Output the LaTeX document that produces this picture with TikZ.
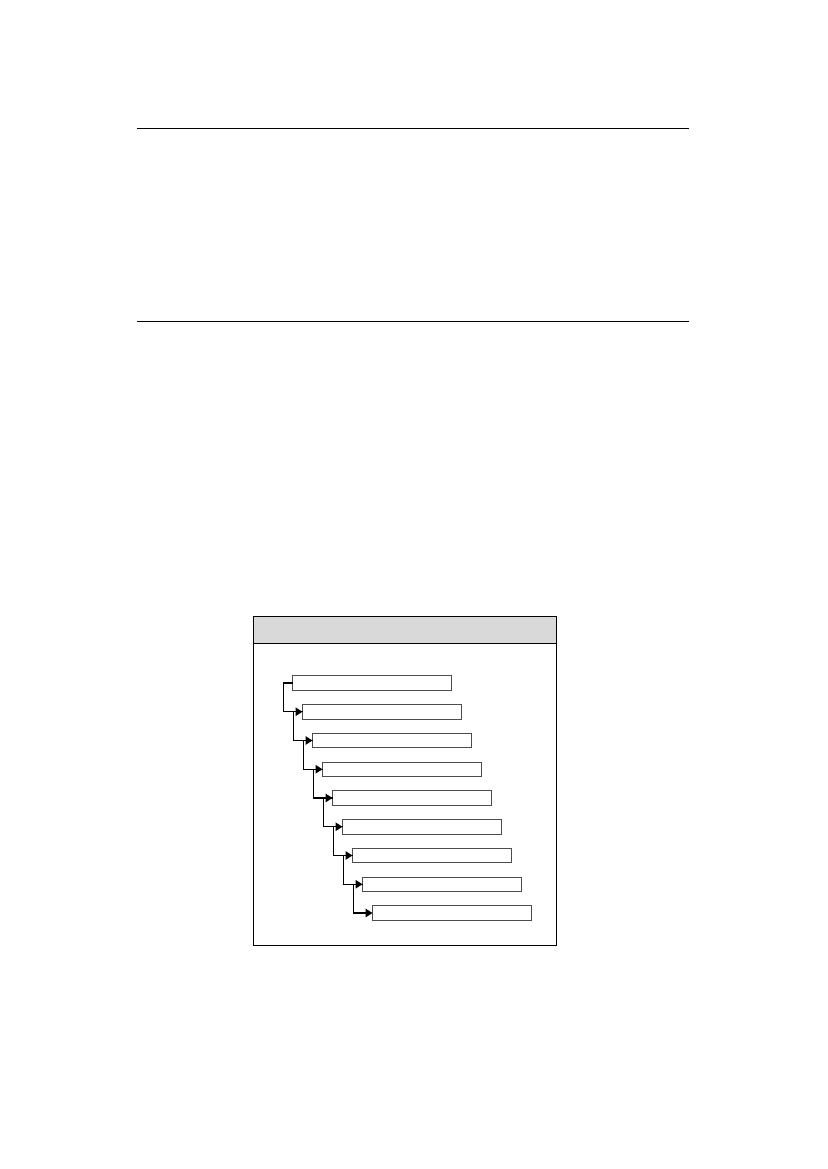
\documentclass[tikz,border=0pt]{standalone}
\usepackage{tikz}
\usetikzlibrary{positioning,calc,arrows.meta}

\begin{document}
\begin{tikzpicture}[x=1pt,y=-1pt,
    stepbar/.style={draw=black!70, line width=0.8pt, fill=white, rectangle, minimum width=158.5pt, minimum height=14.3pt, inner sep=0pt, outer sep=0pt},
    link/.style={line width=1.3pt, -{Triangle[length=7pt,width=8.5pt]}}]
    \useasboundingbox (0,0) rectangle (827,1169);

    % Rules
    \draw[line width=1pt] (137,129) -- (689,129);
    \draw[line width=1pt] (137,321) -- (689,321);

    % Panel
    \draw[line width=1pt, fill=gray!30] (253,616) rectangle (556,643);
    \draw[line width=1pt] (253,616) rectangle (556,945);

    % Steps
    \foreach \i in {1,...,9} {
        \node[stepbar] (b\i) at ({292.5+10*(\i-1)+79.25}, {683+28.75*(\i-1)}) {};
    }

    % Links
    \foreach \i [evaluate=\i as \j using int(\i+1)] in {1,...,8} {
        \draw[link] (b\i.west) -- ++(-9,0) |- (b\j.west);
    }
\end{tikzpicture}
\end{document}
